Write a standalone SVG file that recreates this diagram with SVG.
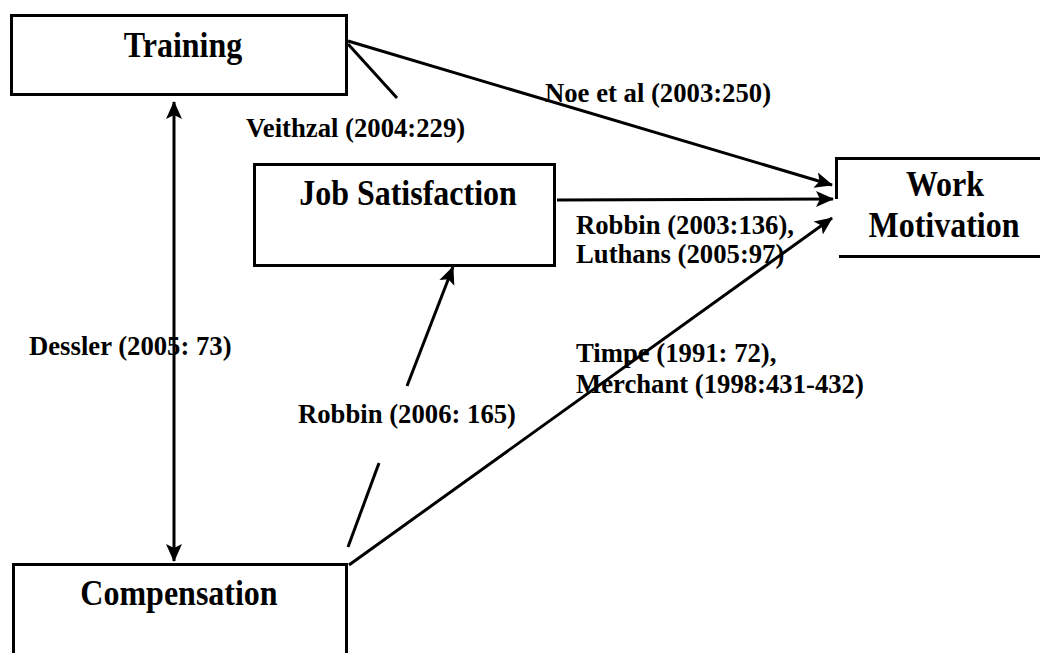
<svg xmlns="http://www.w3.org/2000/svg" width="1040" height="653" viewBox="0 0 1040 653">
<style>
.box{fill:#fff;stroke:#000;stroke-width:3}
.edge{fill:none;stroke:#000;stroke-width:3}
.node{font-family:"Liberation Serif","Times New Roman",serif;font-weight:bold;font-size:32px;fill:#000;text-anchor:middle}
.lbl{font-family:"Liberation Serif","Times New Roman",serif;font-weight:bold;font-size:26.7px;fill:#000}
</style>
<defs>
<marker id="ah" markerUnits="userSpaceOnUse" markerWidth="18" markerHeight="18" viewBox="0 0 18 18" refX="17" refY="9" orient="auto-start-reverse">
<path d="M0,1 L18,9 L0,17 L4,9 Z" fill="#000"/>
</marker>
</defs>
<rect width="1040" height="653" fill="#fff"/>
<g id="training">
<rect class="box" x="11.5" y="15.5" width="335" height="79"/>
<text class="node" transform="translate(183,57) scale(1,1.1)">Training</text>
</g>
<g id="job-satisfaction">
<rect class="box" x="254.5" y="164.5" width="300" height="101"/>
<text class="node" transform="translate(408,205) scale(1,1.1)">Job Satisfaction</text>
</g>
<g id="work-motivation">
<path class="edge" d="M1042,158.5 H836.5 V199"/>
<path class="edge" d="M839,256.5 H1042"/>
<text class="node" transform="translate(945,196) scale(1,1.1)">Work</text>
<text class="node" transform="translate(944,237) scale(1,1.1)">Motivation</text>
</g>
<g id="compensation">
<rect class="box" x="13.5" y="564.5" width="333" height="100"/>
<text class="node" transform="translate(179,605) scale(1,1.1)">Compensation</text>
</g>
<g id="connectors">
<line class="edge" x1="174" y1="102" x2="174" y2="561" marker-start="url(#ah)" marker-end="url(#ah)"/>
<line class="edge" x1="348" y1="41" x2="832" y2="185" marker-end="url(#ah)"/>
<line class="edge" x1="348" y1="44" x2="397" y2="98"/>
<line class="edge" x1="557" y1="200" x2="833" y2="199" marker-end="url(#ah)"/>
<line class="edge" x1="349" y1="565" x2="832" y2="218" marker-end="url(#ah)"/>
<line class="edge" x1="348" y1="547" x2="379" y2="463"/>
<line class="edge" x1="407" y1="386" x2="453" y2="267" marker-end="url(#ah)"/>
</g>
<g id="labels">
<text class="lbl" x="545" y="102">Noe et al (2003:250)</text>
<text class="lbl" x="246" y="137">Veithzal (2004:229)</text>
<text class="lbl" x="576" y="234">Robbin (2003:136),</text>
<text class="lbl" x="576" y="263">Luthans (2005:97)</text>
<text class="lbl" x="29" y="355">Dessler (2005: 73)</text>
<text class="lbl" x="576" y="362">Timpe (1991: 72),</text>
<text class="lbl" x="576" y="393">Merchant (1998:431-432)</text>
<text class="lbl" x="298" y="423">Robbin (2006: 165)</text>
</g>
</svg>
